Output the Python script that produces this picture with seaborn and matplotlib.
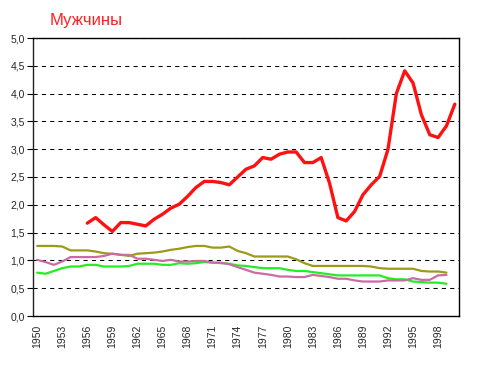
import matplotlib
matplotlib.use("Agg")
import matplotlib.pyplot as plt
import pandas as pd
import seaborn as sns
from matplotlib.ticker import FixedLocator, FuncFormatter

years = list(range(1950, 2001))

red = [None] * 6 + [
    1.67, 1.77, 1.64, 1.52, 1.68, 1.68, 1.65, 1.62, 1.74, 1.83,
    1.94, 2.01, 2.15, 2.31, 2.42, 2.42, 2.40, 2.36, 2.50, 2.64,
    2.70, 2.85, 2.82, 2.91, 2.95, 2.95, 2.76, 2.76, 2.85, 2.39,
    1.77, 1.71, 1.88, 2.18, 2.36, 2.51, 3.00, 4.00, 4.41, 4.19,
    3.62, 3.26, 3.21, 3.42, 3.81,
]
olive = [
    1.26, 1.26, 1.26, 1.25, 1.18, 1.18, 1.18, 1.16, 1.13, 1.12,
    1.10, 1.08, 1.12, 1.13, 1.14, 1.16, 1.19, 1.21, 1.24, 1.26,
    1.26, 1.23, 1.23, 1.25, 1.17, 1.13, 1.07, 1.07, 1.07, 1.07,
    1.07, 1.02, 0.95, 0.90, 0.90, 0.90, 0.90, 0.90, 0.90, 0.90,
    0.89, 0.86, 0.85, 0.85, 0.85, 0.85, 0.81, 0.80, 0.80, 0.78, None,
]
green = [
    0.78, 0.76, 0.81, 0.86, 0.89, 0.89, 0.92, 0.92, 0.89, 0.89,
    0.89, 0.90, 0.94, 0.94, 0.94, 0.92, 0.92, 0.95, 0.94, 0.95,
    0.97, 0.96, 0.95, 0.94, 0.91, 0.90, 0.88, 0.86, 0.86, 0.86,
    0.83, 0.81, 0.81, 0.79, 0.77, 0.75, 0.73, 0.73, 0.73, 0.73,
    0.73, 0.73, 0.68, 0.66, 0.66, 0.62, 0.61, 0.60, 0.60, 0.58, None,
]
pink = [
    1.01, 0.97, 0.92, 0.98, 1.06, 1.06, 1.06, 1.06, 1.08, 1.12,
    1.10, 1.10, 1.03, 1.03, 1.01, 0.99, 1.01, 0.98, 0.98, 0.99,
    0.99, 0.96, 0.96, 0.93, 0.88, 0.83, 0.78, 0.76, 0.74, 0.71,
    0.71, 0.70, 0.70, 0.74, 0.72, 0.70, 0.67, 0.67, 0.64, 0.62,
    0.62, 0.62, 0.64, 0.64, 0.64, 0.68, 0.65, 0.65, 0.73, 0.74, None,
]

title = "Мужчины"
label_years = list(range(1950, 2000, 3))

df = pd.DataFrame({"year": years, "red": red, "olive": olive,
                   "green": green, "pink": pink})

sns.set_style("white")
plt.rcParams["font.family"] = ["Liberation Sans", "DejaVu Sans"]

fig = plt.figure(figsize=(4.87, 3.70), dpi=100)
ax = fig.add_axes([33 / 487, 1 - 316 / 370, 426 / 487, 278 / 370])

styles = [("olive", "#9c9a1a", 1.6), ("green", "#22ee22", 1.6),
          ("pink", "#cc6aa6", 1.6), ("red", "#ff1111", 2.4)]
for col, color, lw in styles:
    sns.lineplot(data=df, x="year", y=col, ax=ax, color=color,
                 linewidth=lw, zorder=3)

ax.set_xlim(1949.5, 2000.5)
ax.set_ylim(0, 5)
ax.set_xlabel("")
ax.set_ylabel("")

ax.set_yticks([i * 0.5 for i in range(11)])
ax.yaxis.set_major_formatter(FuncFormatter(lambda v, p: f"{v:.1f}".replace(".", ",")))
ax.yaxis.grid(True, linestyle=(0, (4, 4)), color="black", linewidth=0.75)

ax.xaxis.set_major_locator(FixedLocator(label_years))
ax.xaxis.set_minor_locator(FixedLocator([y + 0.5 for y in range(1949, 2001)]))
ax.tick_params(axis="x", which="major", length=0, labelsize=7.5, rotation=90, pad=6)
ax.tick_params(axis="x", which="minor", length=4, width=0.8, color="black", direction="out")
ax.tick_params(axis="y", length=4, width=0.8, color="black", direction="out",
               labelsize=7.5, left=True, pad=2)

for s in ax.spines.values():
    s.set_visible(True)
    s.set_color("black")
    s.set_linewidth(1)
ax.spines["left"].set_color("#222222")

fig.text(50 / 487, 1 - 20 / 370, title, color="#ff2020", fontsize=12,
         ha="left", va="center")

fig.savefig("out.png", dpi=100)
